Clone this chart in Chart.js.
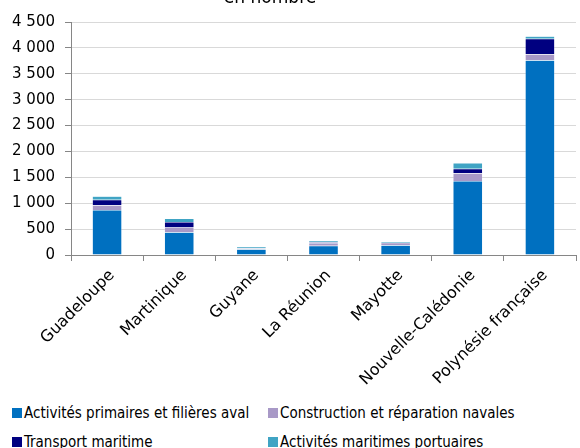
<!DOCTYPE html>
<html>
<head>
<meta charset="utf-8">
<script src="https://cdn.jsdelivr.net/npm/chart.js@4/dist/chart.umd.min.js"></script>
<style>
  html, body { margin: 0; padding: 0; background: #fff; }
  body { width: 580px; height: 448px; overflow: hidden; position: relative; font-family: "DejaVu Sans Condensed", "DejaVu Sans", sans-serif; }
  #wrap { position: absolute; left: 0; top: -12px; width: 580px; height: 400px; }
  #legend { position: absolute; left: 0; top: 403px; width: 580px; }
  .item { position: absolute; font-size: 15px; color: #000; white-space: nowrap; line-height: 20px; }
  .item span.box { display: inline-block; width: 10px; height: 10px; margin-right: 2px; vertical-align: 0px; }
</style>
</head>
<body>
<div id="wrap"><canvas id="chart" width="580" height="400"></canvas></div>
<div id="legend"></div>
<script>
// --- DATA ---
const categories = ['Guadeloupe', 'Martinique', 'Guyane', 'La Réunion', 'Mayotte', 'Nouvelle-Calédonie', 'Polynésie française'];
const primaires = [870, 440, 110, 180, 190, 1430, 3760];
const construction = [90, 90, 20, 40, 45, 150, 115];
const transport = [105, 105, 0, 25, 0, 85, 300];
const portuaires = [70, 70, 30, 30, 25, 110, 50];
const seriesNames = ['Activités primaires et filières aval', 'Construction et réparation navales', 'Transport maritime', 'Activités maritimes portuaires'];
const seriesColors = ['#0070C0', '#A899C7', '#000080', '#40A4C4'];
const yTicks = [0, 500, 1000, 1500, 2000, 2500, 3000, 3500, 4000, 4500];
const titleText = 'en nombre';

const FONT = '"DejaVu Sans", sans-serif';
const FONT_NARROW = '"DejaVu Sans Condensed", "DejaVu Sans", sans-serif';

// title is cut by the top edge in the source, draw it by hand
const topTitle = {
    id: 'topTitle',
    afterDraw(chart) {
        const ctx = chart.ctx;
        ctx.save();
        ctx.font = '19px ' + FONT_NARROW;
        ctx.fillStyle = '#000';
        ctx.textAlign = 'center';
        ctx.textBaseline = 'middle';
        ctx.fillText(titleText, 270, 10);
        ctx.restore();
    }
};

const seriesData = [primaires, construction, transport, portuaires];

new Chart(document.getElementById('chart'), {
    type: 'bar',
    data: {
        labels: categories,
        datasets: seriesData.map((d, i) => ({
            label: seriesNames[i],
            data: d,
            backgroundColor: seriesColors[i],
            borderColor: 'rgba(255,255,255,0.5)',
            borderWidth: 0.5,
            categoryPercentage: 1,
            barPercentage: 0.41
        }))
    },
    options: {
        responsive: false,
        animation: false,
        layout: { padding: { top: 34, left: 0, right: 4, bottom: 0 } },
        plugins: {
            legend: { display: false },
            title: { display: false },
            tooltip: { enabled: false }
        },
        scales: {
            x: {
                stacked: true,
                offset: true,
                afterFit(s) { s.height = 133; },
                grid: { display: true, drawOnChartArea: false, offset: true, tickLength: 6, tickColor: '#868686' },
                border: { color: '#868686' },
                ticks: { minRotation: 45, maxRotation: 45, padding: 5, labelOffset: 5, color: '#000', font: { family: FONT, size: 16 } }
            },
            y: {
                stacked: true,
                min: 0,
                max: 4500,
                afterFit(s) { s.width = 71; },
                afterBuildTicks(s) { s.ticks = yTicks.map(v => ({ value: v })); },
                grid: { color: '#D9D9D9', tickLength: 6, tickColor: '#868686' },
                border: { color: '#868686' },
                ticks: {
                    padding: 10,
                    color: '#000',
                    font: { family: FONT, size: 15 },
                    callback: v => String(v).replace(/\B(?=(\d{3})+(?!\d))/g, ' ')
                }
            }
        }
    },
    plugins: [topTitle]
});

// --- LEGEND (two columns like the source) ---
const legendPos = [[12, 0], [268, 0], [12, 29], [268, 29]];
document.getElementById('legend').innerHTML = seriesNames.map((n, i) =>
    `<div class="item" style="left:${legendPos[i][0]}px; top:${legendPos[i][1]}px;"><span class="box" style="background:${seriesColors[i]}"></span>${n}</div>`
).join('');
</script>
</body>
</html>
